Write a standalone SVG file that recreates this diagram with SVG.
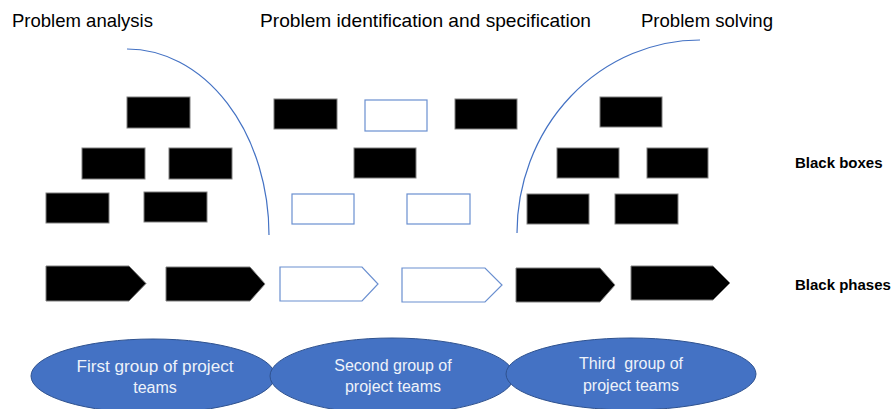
<svg xmlns="http://www.w3.org/2000/svg" width="893" height="409" viewBox="0 0 893 409">
<style>
.hdr{font-family:"Liberation Sans",Arial,sans-serif;font-size:18.5px;fill:#000}
.lbl{font-family:"Liberation Sans",Arial,sans-serif;font-size:15px;font-weight:bold;fill:#000}
.bb{fill:#000;stroke:#7f7f7f;stroke-width:1}
.wb{fill:#fff;stroke:#6a8fd0;stroke-width:1.2}
.ell{fill:#4472C4;stroke:#2F528F;stroke-width:1}
.et{font-family:"Liberation Sans",Arial,sans-serif;font-size:16px;fill:#eef2fa;text-anchor:middle}
.cv{fill:none;stroke:#4472C4;stroke-width:1.2}
</style>
<rect width="893" height="409" fill="#fff"/>
<g id="headers">
<text class="hdr" x="12" y="27" textLength="141" lengthAdjust="spacingAndGlyphs">Problem analysis</text>
<text class="hdr" x="260" y="27" textLength="331" lengthAdjust="spacingAndGlyphs">Problem identification and specification</text>
<text class="hdr" x="641" y="27" textLength="132" lengthAdjust="spacingAndGlyphs">Problem solving</text>
<text class="lbl" x="795" y="168">Black boxes</text>
<text class="lbl" x="795" y="290">Black phases</text>
</g>
<g id="connectors">
<path class="cv" d="M127,49 A142,186 0 0 1 269,235"/>
<path class="cv" d="M700,40 A183,193 0 0 0 517,233"/>
</g>
<g id="boxes">
<rect class="bb" x="127" y="97" width="63" height="31"/>
<rect class="bb" x="274" y="99" width="63" height="30"/>
<rect class="wb" x="365" y="100" width="62" height="31"/>
<rect class="bb" x="455" y="99" width="62" height="30"/>
<rect class="bb" x="600" y="97" width="62" height="30"/>
<rect class="bb" x="82" y="148" width="63" height="31"/>
<rect class="bb" x="169" y="148" width="63" height="31"/>
<rect class="bb" x="354" y="148" width="62" height="30"/>
<rect class="bb" x="557" y="148" width="62" height="30"/>
<rect class="bb" x="647" y="148" width="61" height="30"/>
<rect class="bb" x="46" y="193" width="63" height="30"/>
<rect class="bb" x="144" y="192" width="63" height="30"/>
<rect class="wb" x="292" y="194" width="62" height="30"/>
<rect class="wb" x="407" y="194" width="63" height="30"/>
<rect class="bb" x="527" y="194" width="62" height="30"/>
<rect class="bb" x="615" y="194" width="63" height="30"/>
</g>
<g id="phases">
<polygon class="bb" points="46,266 129,266 146,283.5 129,301 46,301"/>
<polygon class="bb" points="166,267 250,267 265,284 250,301 166,301"/>
<polygon class="wb" points="280,267 362,267 378,284 362,301 280,301"/>
<polygon class="wb" points="402,268 485,268 502,285 485,302 402,302"/>
<polygon class="bb" points="516,268 600,268 615,285 600,302 516,302"/>
<polygon class="bb" points="631,266 713,266 730,283 713,300 631,300"/>
</g>
<g id="group1">
<ellipse class="ell" cx="153" cy="376" rx="122" ry="37"/>
<text class="et" x="155" y="372" textLength="157" lengthAdjust="spacingAndGlyphs">First group of project</text>
<text class="et" x="155" y="393">teams</text>
</g>
<g id="group2">
<ellipse class="ell" cx="392" cy="376" rx="122" ry="38"/>
<text class="et" x="393" y="371">Second group of</text>
<text class="et" x="393" y="392">project teams</text>
</g>
<g id="group3">
<ellipse class="ell" cx="631" cy="374" rx="125" ry="36"/>
<text class="et" x="631" y="369" xml:space="preserve">Third  group of</text>
<text class="et" x="631" y="391">project teams</text>
</g>
</svg>
